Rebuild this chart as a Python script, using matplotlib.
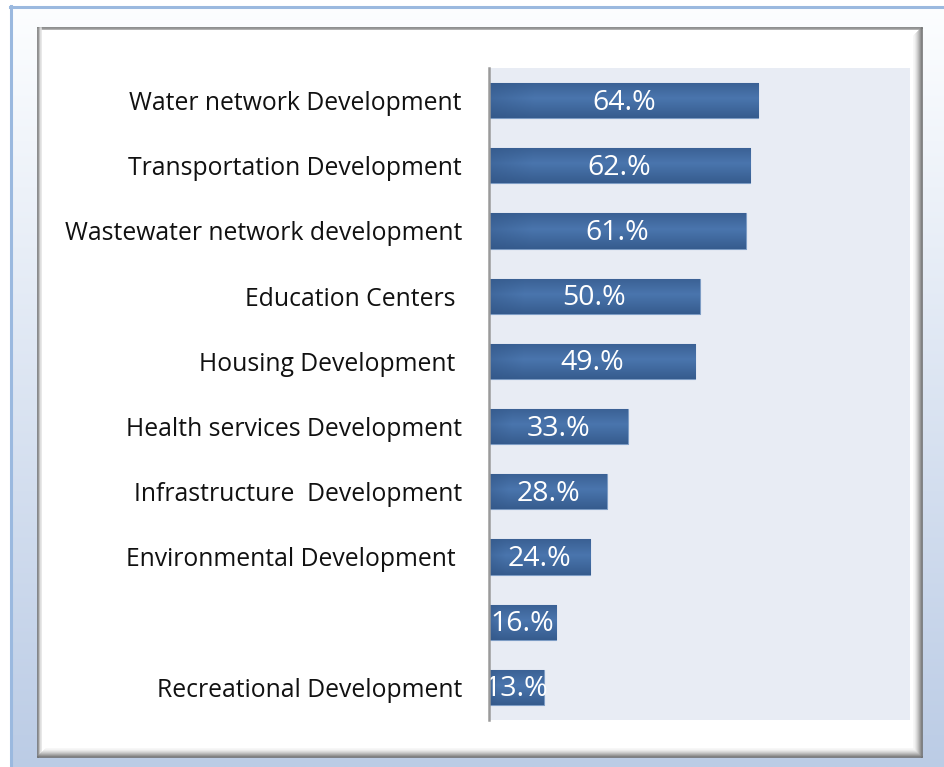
import numpy as np
import matplotlib
matplotlib.use("Agg")
import matplotlib.pyplot as plt
from matplotlib.patches import Rectangle
from matplotlib.lines import Line2D

categories = [
    "Water network Development",
    "Transportation Development",
    "Wastewater network development",
    "Education Centers ",
    "Housing Development ",
    "Health services Development",
    "Infrastructure  Development",
    "Environmental Development ",
    "",
    "Recreational Development",
]
values = [64, 62, 61, 50, 49, 33, 28, 24, 16, 13]
value_labels = ["64.%", "62.%", "61.%", "50.%", "49.%", "33.%", "28.%", "24.%", "16.%", "13.%"]

plt.rcParams["font.family"] = ["Open Sans", "DejaVu Sans"]

W, H = 945, 767
fig = plt.figure(figsize=(W / 100, H / 100), dpi=100)

# page background: white fading into pale blue towards the bottom
bg = fig.add_axes([0, 0, 1, 1])
bg.set_xlim(0, W)
bg.set_ylim(H, 0)
bg.axis("off")
grad = np.linspace(0, 1, 256)[:, None]
top_c = np.array([0.99, 0.995, 1.0])
bot_c = np.array([0.735, 0.80, 0.90])
img = top_c[None, None, :] * (1 - grad[..., None]) + bot_c[None, None, :] * grad[..., None]
img = np.repeat(img, 2, axis=1)
bg.imshow(img, extent=[11, W, H, 7], aspect="auto", zorder=0)
bg.add_line(Line2D([10, W], [6.5, 6.5], color="#9bb9df", lw=2.2, zorder=1))
bg.add_line(Line2D([10.5, 10.5], [6, H], color="#9bb9df", lw=2.2, zorder=1))

# inner framed panel with bevelled grey edges
x0, y0, x1, y1 = 38, 28, 922, 757
bg.add_patch(Rectangle((x0, y0), x1 - x0, y1 - y0, facecolor="white", edgecolor="none", zorder=2))
for i, c in enumerate(["#6e6e6e", "#9a9a9a", "#c4c4c4", "#e2e2e2"]):
    bg.add_line(Line2D([x0 + i, x0 + i], [y0, y1 - i], color=c, lw=1.1, zorder=3))
    bg.add_line(Line2D([x0, x1 - i], [y0 + i * 0.5, y0 + i * 0.5], color=c if i < 2 else "none", lw=1.1, zorder=3))
for i, c in enumerate(["#6a6a6a", "#808080", "#949494", "#a8a8a8", "#bcbcbc", "#cecece", "#dedede", "#ebebeb", "#f5f5f5"]):
    bg.add_line(Line2D([x1 - i, x1 - i], [y0 + i, y1 - i], color=c, lw=1.1, zorder=3))
    bg.add_line(Line2D([x0 + i, x1 - i], [y1 - i, y1 - i], color=c, lw=1.1, zorder=3))

# bar chart
ax = fig.add_axes([489 / W, 1 - 720 / H, (910 - 489) / W, (720 - 68) / H])
ax.set_facecolor("#e8ecf4")
ax.set_zorder(5)
y = np.arange(len(categories))
bars = ax.barh(y, values, height=0.54, color="#3d6699", edgecolor="#7d9cc4", linewidth=0.8, zorder=2)
ax.set_xlim(0, 100)
ax.set_ylim(len(categories) - 0.5, -0.5)

shade = np.linspace(0, 1, 64)
vert = 1 - np.abs(shade - 0.45) * 1.4
horz = np.clip(np.linspace(0, 1, 128) * 6, 0, 1)
t = np.clip(vert[:, None] * (0.6 + 0.4 * horz[None, :]), 0, 1)
dark = np.array([0.19, 0.33, 0.52])
light = np.array([0.29, 0.46, 0.68])
gimg = dark[None, None, :] * (1 - t[..., None]) + light[None, None, :] * t[..., None]
for b in bars:
    bx, by, bw, bh = b.get_x(), b.get_y(), b.get_width(), b.get_height()
    im = ax.imshow(gimg, extent=[bx, bx + bw, by + bh, by], aspect="auto", zorder=2.5, interpolation="bilinear")
    im.set_clip_path(b)

for yi, v, lab in zip(y, values, value_labels):
    ax.text(v / 2, yi + 0.03, lab, ha="center", va="center", color="white", fontsize=20.5, zorder=4)

ax.set_yticks(y)
ax.set_yticklabels(categories, fontsize=17.8, color="#111111")
ax.tick_params(axis="y", length=0, pad=19.5)
ax.set_xticks([])
for s in ["top", "right", "bottom"]:
    ax.spines[s].set_visible(False)
ax.spines["left"].set_color("#9a9a9a")
ax.spines["left"].set_linewidth(1.8)
ax.spines["left"].set_zorder(6)

fig.savefig("out.png", dpi=100)
